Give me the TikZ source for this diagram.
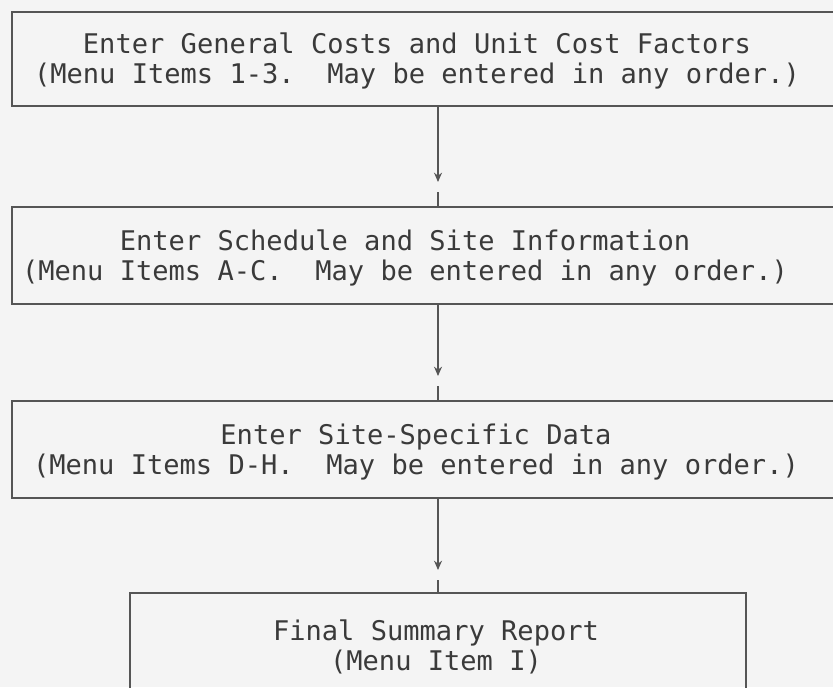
\documentclass[tikz,border=0pt]{standalone}
\usepackage{fontspec}
\newfontfamily\typefont{DejaVu Sans Mono}
\usetikzlibrary{arrows.meta}
\definecolor{paper}{HTML}{F4F4F4}
\definecolor{ink}{HTML}{3A3A3A}
\definecolor{rule}{HTML}{555555}
\begin{document}
\frenchspacing
\begin{tikzpicture}[x=0.75pt,y=-0.75pt,
  box/.style={draw=rule, line width=1.3pt, inner sep=0pt},
  txt/.style={text=ink, font=\typefont\fontsize{20.3}{22.5}\selectfont, align=center, inner sep=0pt},
  flow/.style={draw=rule, line width=1.1pt, -{Stealth[length=7pt,width=6pt]}},
  stub/.style={draw=rule, line width=1.1pt}]
\fill[paper] (0,0) rectangle (833,687);
\useasboundingbox (0,0) rectangle (833,687);
\clip (0,0) rectangle (833,687);

% the four stages
\node[box, minimum width=639pt, minimum height=70.5pt] (b1) at (438,59) {};
\node[box, minimum width=639pt, minimum height=72.75pt] (b2) at (438,255.5) {};
\node[box, minimum width=639pt, minimum height=72.75pt] (b3) at (438,449.5) {};
\node[box, minimum width=462pt, minimum height=105pt] (b4) at (438,663) {};

\node[txt] (t1) at (417,61) {Enter General Costs and Unit Cost Factors\\(Menu Items 1-3.\ \ May be entered in any order.)};
\node[txt] (t2) at (405,258) {Enter Schedule and Site Information\\(Menu Items A-C.\ \ May be entered in any order.)};
\node[txt] (t3) at (416,452) {Enter Site-Specific Data\\(Menu Items D-H.\ \ May be entered in any order.)};
\node[txt] (t4) at (436,647) {Final Summary Report\\(Menu Item I)};

% connectors: arrow head partway down, then a short stub to the next box
\coordinate (a1) at (438,182);
\coordinate (s1) at (438,192);
\draw[flow] (b1.south) -- (a1);
\draw[stub] (s1) -- (b2.north);

\coordinate (a2) at (438,376);
\coordinate (s2) at (438,386);
\draw[flow] (b2.south) -- (a2);
\draw[stub] (s2) -- (b3.north);

\coordinate (a3) at (438,570);
\coordinate (s3) at (438,580);
\draw[flow] (b3.south) -- (a3);
\draw[stub] (s3) -- (b4.north);
\end{tikzpicture}
\end{document}
